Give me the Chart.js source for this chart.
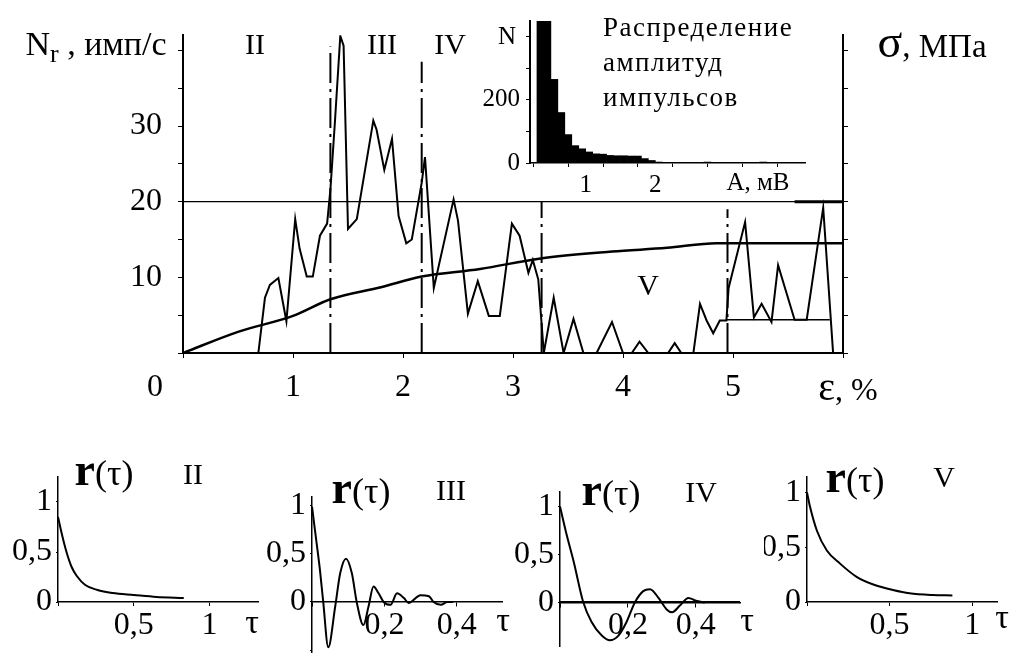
<!DOCTYPE html>
<html>
<head>
<meta charset="utf-8">
<script src="https://cdn.jsdelivr.net/npm/chart.js@4"></script>
<style>
body { margin:0; background:#fff; width:1014px; height:653px; position:relative; overflow:hidden;
       font-family:"Liberation Serif","DejaVu Serif",serif; color:#000; }
canvas { position:absolute; }
.t { position:absolute; transform:translate(-50%,-50%); white-space:nowrap; line-height:1; }
.ax { position:absolute; height:0; border-top:1.5px solid #000; }
</style>
</head>
<body>
<canvas id="main" style="left:0;top:0" width="1014" height="420"></canvas>
<canvas id="hist" style="left:420px;top:0" width="420" height="200"></canvas>
<canvas id="r2" style="left:0;top:440px" width="262" height="213"></canvas>
<canvas id="r3" style="left:262px;top:440px" width="252" height="213"></canvas>
<canvas id="r4" style="left:514px;top:440px" width="250" height="213"></canvas>
<canvas id="r5" style="left:764px;top:440px" width="250" height="213"></canvas>

<!-- main chart labels -->
<div class="t" style="left:96px;top:44px;font-size:34px">N<span style="font-size:26px;position:relative;top:7px">r</span> , имп/с</div>
<div class="t" style="left:932px;top:42px"><span style="font-size:46px">σ</span><span style="font-size:33px">, МПа</span></div>
<div class="t" style="left:255px;top:44px;font-size:30px">II</div>
<div class="t" style="left:382px;top:44px;font-size:30px">III</div>
<div class="t" style="left:450px;top:44px;font-size:30px">IV</div>
<div class="t" style="left:648px;top:285px;font-size:30px">V</div>
<div class="t" style="left:155px;top:385px;font-size:32px">0</div>
<div class="t" style="left:848px;top:387px"><span style="font-size:40px">ε</span><span style="font-size:32px">, %</span></div>

<!-- inset labels -->
<div class="t" style="left:507px;top:35px;font-size:25px">N</div>
<div class="t" style="left:758px;top:181px;font-size:25px">A, мВ</div>
<div style="position:absolute;left:603px;top:10px;font-size:27px;letter-spacing:1.5px;line-height:35px">Распределение<br>амплитуд<br>импульсов</div>

<!-- small chart titles -->
<div class="t" style="left:104px;top:470px;font-size:36px"><b style="font-size:46px">r</b>(τ)</div>
<div class="t" style="left:193px;top:474px;font-size:30px">II</div>
<div class="t" style="left:252px;top:622px;font-size:34px">τ</div>
<div class="t" style="left:361px;top:488px;font-size:36px"><b style="font-size:46px">r</b>(τ)</div>
<div class="t" style="left:451px;top:490px;font-size:30px">III</div>
<div class="t" style="left:503px;top:620px;font-size:34px">τ</div>
<div class="t" style="left:611px;top:490px;font-size:36px"><b style="font-size:46px">r</b>(τ)</div>
<div class="t" style="left:701px;top:492px;font-size:30px">IV</div>
<div class="t" style="left:747px;top:620px;font-size:34px">τ</div>
<div class="t" style="left:855px;top:477px;font-size:36px"><b style="font-size:46px">r</b>(τ)</div>
<div class="t" style="left:944px;top:477px;font-size:30px">V</div>
<div class="t" style="left:1002px;top:617px;font-size:34px">τ</div>

<!-- tau axes through r = 0 for III and IV -->
<div class="ax" style="left:312px;top:601px;width:190px"></div>
<div class="ax" style="left:560px;top:601px;width:180px"></div>

<script>
const serif = '"Liberation Serif","DejaVu Serif",serif';

// main chart: count rate Nr vs strain eps
const eps = [0, 0.685, 0.745, 0.79, 0.867, 0.94, 1.02, 1.06, 1.125, 1.18, 1.245, 1.31, 1.34, 1.38, 1.43, 1.46,
   1.50, 1.58, 1.73, 1.76, 1.83, 1.90, 1.96, 2.03, 2.08, 2.17, 2.20, 2.28, 2.46, 2.50, 2.59, 2.68, 2.78, 2.88,
   2.99, 3.06, 3.14, 3.18, 3.23, 3.28, 3.37, 3.46, 3.55, 3.64, 3.76, 3.90, 4.0, 4.08, 4.15, 4.23, 4.41, 4.47,
   4.53, 4.64, 4.70, 4.76, 4.82, 4.88, 4.94, 4.96, 5.11, 5.19, 5.26, 5.35, 5.41, 5.56, 5.67, 5.82, 5.91];
const nr = [0, 0, 7.3, 9.0, 9.9, 4.2, 17.7, 13.8, 10.1, 10.1, 15.5, 17.1, 21.6, 30.3, 41.9, 40.6,
   16.4, 17.7, 30.7, 29.5, 24.2, 28.3, 18.1, 14.5, 15.0, 22.5, 25.9, 8.6, 20.3, 17.5, 5.2, 9.5, 4.9, 4.9,
   17.1, 15.5, 10.6, 12.3, 9.7, 0, 7.3, 0, 4.5, 0, 0, 4.1, 0, 0, 1.5, 0, 0, 1.3,
   0, 0, 6.5, 4.3, 2.6, 4.3, 4.3, 8.6, 17.3, 4.7, 6.5, 4.1, 11.6, 4.4, 4.4, 19.2, 0];

// stress-strain curve sigma(eps)
const sigEps = [0, 0.5, 1.0, 1.34, 1.8, 2.17, 2.7, 3.25, 3.9, 4.4, 4.85, 6.0];
const sigVal = [0, 2.8, 4.9, 7.1, 8.7, 10.1, 11.1, 12.5, 13.4, 13.9, 14.5, 14.5];

// region boundaries (dash-dot lines) and their upper ends
const bounds = [1.34, 2.17, 3.26, 4.95];
const boundTop = [40.5, 38.5, 20, 19];
const refLevel = 20;            // thin horizontal line
const refThickFrom = 5.56;      // thick part of it
const levelV = [4.94, 5.88, 4.4]; // from, to, value

// inset: pulse amplitude histogram
const ampBins = [0.35, 0.45, 0.55, 0.65, 0.75, 0.85, 0.95, 1.05, 1.15, 1.25, 1.35, 1.45, 1.55, 1.65, 1.75,
   1.85, 1.95, 2.05, 2.15, 2.25, 2.35, 2.45, 2.55, 2.65, 2.75, 2.85, 2.95, 3.05, 3.15, 3.25, 3.35, 3.45,
   3.55, 3.65, 3.75, 3.85, 3.95, 4.05];
const ampCount = [480, 480, 265, 160, 90, 55, 45, 35, 29, 28, 24, 23, 23, 22, 22,
   14, 8, 3, 0, 2, 0, 0, 2, 0, 3, 0, 0, 2, 0, 2, 0, 0, 3, 0, 2, 0, 0, 2];

// autocorrelation r(tau) for regions II..V
const tau2 = [0, 0.03, 0.058, 0.09, 0.124, 0.18, 0.26, 0.36, 0.5, 0.65, 0.83];
const r2 = [0.85, 0.65, 0.49, 0.35, 0.26, 0.17, 0.12, 0.09, 0.07, 0.05, 0.04];
const tau3 = [0, 0.008, 0.022, 0.031, 0.045, 0.064, 0.078, 0.094, 0.11, 0.124, 0.142, 0.156, 0.17, 0.184,
   0.198, 0.217, 0.235, 0.254, 0.267, 0.3, 0.323, 0.336, 0.356, 0.374, 0.39];
const r3 = [0.99, 0.75, 0.33, 0, -0.47, -0.05, 0.3, 0.45, 0.3, -0.01, -0.24, -0.05, 0.16, 0.09,
   0, -0.03, 0.09, 0.04, -0.01, 0.07, 0.06, 0, -0.03, 0, 0];
const tau4 = [0, 0.02, 0.04, 0.068, 0.093, 0.123, 0.147, 0.17, 0.196, 0.22, 0.245, 0.265, 0.29, 0.314, 0.33,
   0.353, 0.378, 0.4, 0.426];
const r4 = [1.0, 0.7, 0.43, 0.01, -0.2, -0.34, -0.39, -0.35, -0.2, 0, 0.12, 0.14, 0.05, -0.07, -0.1,
   -0.03, 0.05, 0.02, 0];
const tau5 = [0, 0.018, 0.06, 0.12, 0.2, 0.3, 0.41, 0.52, 0.62, 0.76, 0.88];
const r5 = [1.0, 0.87, 0.65, 0.47, 0.35, 0.23, 0.155, 0.11, 0.08, 0.064, 0.06];

const pts = (xs, ys) => xs.map((x, i) => ({ x: x, y: ys[i] }));
const line = (data, w, extra) => Object.assign({ data: data, borderColor: '#000', borderWidth: w,
   pointRadius: 0, fill: false, tension: 0 }, extra || {});
const noPlugins = { legend: { display: false }, tooltip: { enabled: false } };

// main chart
const mainSets = [
   line(pts(eps, nr), 2),
   line(pts(sigEps, sigVal), 2.5, { cubicInterpolationMode: 'monotone' }),
   line([{ x: 0, y: refLevel }, { x: 6, y: refLevel }], 1.2),
   line([{ x: refThickFrom, y: refLevel }, { x: 6, y: refLevel }], 3),
   line([{ x: levelV[0], y: levelV[2] }, { x: levelV[1], y: levelV[2] }], 1.5)
];
bounds.forEach((b, i) => {
   mainSets.push(line([{ x: b, y: 0 }, { x: b, y: boundTop[i] }], 2, { borderDash: [30, 6, 3, 6] }));
});

new Chart(document.getElementById('main'), {
   type: 'line',
   data: { datasets: mainSets },
   options: {
      responsive: false, animation: false,
      layout: { padding: { top: 30, left: 0, right: 0, bottom: 0 } },
      plugins: noPlugins,
      scales: {
         x: {
            type: 'linear', min: 0, max: 6,
            afterFit: s => { s.height = 67; },
            ticks: { stepSize: 1, autoSkip: false, includeBounds: false, maxRotation: 0, padding: 10,
               color: '#000', font: { family: serif, size: 32 },
               callback: v => (v >= 1 && v <= 5) ? v : '' },
            grid: { drawOnChartArea: false, tickLength: 5, color: '#000' },
            border: { color: '#000', width: 2 }
         },
         y: {
            min: 0, max: 42, position: 'left',
            afterFit: s => { s.width = 183; },
            ticks: { stepSize: 5, autoSkip: false, includeBounds: false, padding: 16, color: '#000',
               font: { family: serif, size: 32 },
               callback: v => (v === 10 || v === 20 || v === 30) ? v : '' },
            grid: { drawOnChartArea: false, tickLength: 5, color: '#000' },
            border: { color: '#000', width: 2 }
         },
         y2: {
            min: 0, max: 42, position: 'right',
            afterFit: s => { s.width = 171; },
            ticks: { stepSize: 5, includeBounds: false, callback: () => '' },
            grid: { drawOnChartArea: false, tickLength: 5, color: '#000' },
            border: { color: '#000', width: 2 }
         }
      }
   }
});

// inset histogram
new Chart(document.getElementById('hist'), {
   type: 'bar',
   data: { datasets: [{ data: pts(ampBins, ampCount), backgroundColor: '#000', borderWidth: 0,
      barPercentage: 1, categoryPercentage: 1 }] },
   options: {
      responsive: false, animation: false,
      layout: { padding: { top: 10, left: 0, right: 35, bottom: 0 } },
      plugins: noPlugins,
      scales: {
         x: {
            type: 'linear', min: 0.2, max: 4.15, offset: false,
            afterFit: s => { s.height = 37; },
            ticks: { stepSize: 0.5, autoSkip: false, includeBounds: false, maxRotation: 0, padding: 3,
               color: '#000', font: { family: serif, size: 25 },
               callback: v => (v === 1 || v === 2) ? v : '' },
            grid: { drawOnChartArea: false, tickLength: 4, color: '#000' },
            border: { color: '#000', width: 1.5, dash: [2, 3] }
         },
         y: {
            min: 0, max: 450,
            afterFit: s => { s.width = 110; },
            ticks: { stepSize: 100, autoSkip: false, includeBounds: false, padding: 6, color: '#000',
               font: { family: serif, size: 25 },
               callback: v => (v === 0 || v === 200) ? v : '' },
            grid: { drawOnChartArea: false, tickLength: 4, color: '#000' },
            border: { color: '#000', width: 2 }
         }
      }
   }
});

// small autocorrelation charts
const comma = v => String(Math.round(v * 10) / 10).replace('.', ',');
const has = (list, v) => list.some(l => Math.abs(l - v) < 1e-6);

function smallChart(id, tau, r, s) {
   new Chart(document.getElementById(id), {
      type: 'line',
      data: { datasets: [line(pts(tau, r), 2, { cubicInterpolationMode: 'monotone' })] },
      options: {
         responsive: false, animation: false,
         layout: { padding: { top: s.top, right: s.right, bottom: s.bottom, left: 0 } },
         plugins: noPlugins,
         scales: {
            x: {
               type: 'linear', min: 0, max: s.xmax, position: s.xpos,
               afterFit: sc => { sc.height = s.xh; sc.paddingLeft = 0; sc.paddingRight = 0; },
               ticks: { stepSize: s.xstep, autoSkip: false, includeBounds: false, maxRotation: 0, padding: 0,
                  color: '#000', font: { family: serif, size: 32 },
                  callback: v => has(s.xlab, v) ? comma(v) : '' },
               grid: { drawOnChartArea: false, tickLength: 4, color: '#000' },
               border: { color: '#000', width: 1.5 }
            },
            y: {
               min: s.ymin, max: s.ymax,
               afterFit: sc => { sc.width = s.left; sc.paddingTop = 0; sc.paddingBottom = 0; },
               ticks: { stepSize: 0.5, autoSkip: false, includeBounds: false, padding: 4, color: '#000',
                  font: { family: serif, size: 32 },
                  callback: v => has([0, 0.5, 1], v) ? comma(v) : '' },
               grid: { drawOnChartArea: false, tickLength: 2, color: '#000' },
               border: { color: '#000', width: 1.5 }
            }
         }
      }
   });
}

smallChart('r2', tau2, r2, { left: 58, top: 37, right: 4, bottom: 0, xh: 51, xpos: 'bottom',
   xmax: 1.32, xstep: 0.5, xlab: [0.5, 1], ymin: 0, ymax: 1.25 });
smallChart('r3', tau3, r3, { left: 50, top: 57, right: 12, bottom: 0, xh: 40, xpos: { y: 0 },
   xmax: 0.525, xstep: 0.2, xlab: [0.2, 0.4], ymin: -0.53, ymax: 1.09 });
smallChart('r4', tau4, r4, { left: 46, top: 52, right: 24, bottom: 7, xh: 40, xpos: { y: 0 },
   xmax: 0.53, xstep: 0.2, xlab: [0.2, 0.4], ymin: -0.45, ymax: 1.15 });
smallChart('r5', tau5, r5, { left: 43, top: 37, right: 17, bottom: 0, xh: 51, xpos: 'bottom',
   xmax: 1.15, xstep: 0.5, xlab: [0.5, 1], ymin: 0, ymax: 1.14 });
</script>
</body>
</html>
